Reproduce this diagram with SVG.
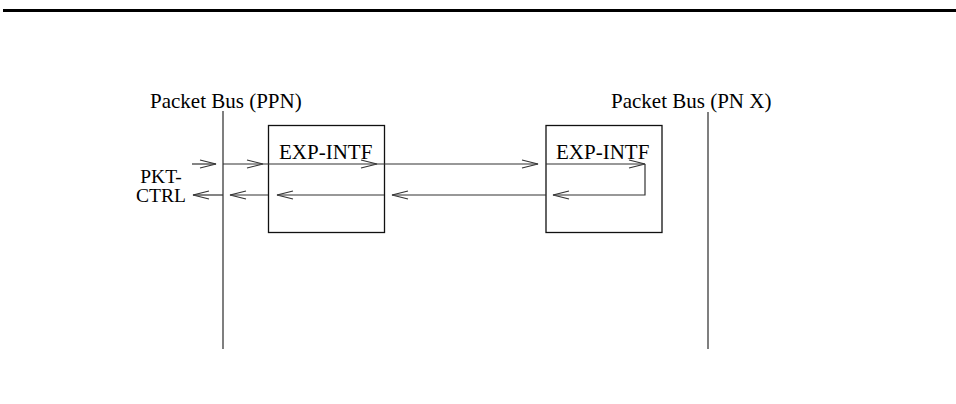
<svg xmlns="http://www.w3.org/2000/svg" width="956" height="404" viewBox="0 0 956 404">
<defs>
<style>
text{font-family:"Liberation Serif","Times New Roman",serif;font-size:21px;fill:#000}
.sm{font-size:19.5px}
.bus{stroke:#555;stroke-width:1.5;fill:none}
.box{stroke:#111;stroke-width:1.3;fill:#fff}
.c{stroke:#333;stroke-width:1.2;fill:none;marker-end:url(#arr)}
</style>
<marker id="arr" viewBox="0 0 18 10" markerWidth="18" markerHeight="10" refX="17" refY="5" orient="auto" markerUnits="userSpaceOnUse">
<path d="M1,1 L17,5 L1,9" fill="none" stroke="#333" stroke-width="1.2"/>
</marker>
</defs>
<rect x="3" y="9" width="953" height="3" fill="#000"/>
<g id="bus-ppn">
<line class="bus" x1="223" y1="111" x2="223" y2="349"/>
<text x="150" y="108">Packet Bus (PPN)</text>
</g>
<g id="bus-pnx">
<line class="bus" x1="708" y1="112" x2="708" y2="349"/>
<text x="611" y="108">Packet Bus (PN X)</text>
</g>
<g id="pkt-ctrl">
<text class="sm" x="161" y="183" text-anchor="middle">PKT-</text>
<text class="sm" x="161" y="202" text-anchor="middle">CTRL</text>
</g>
<g id="exp-intf-1">
<rect class="box" x="268.5" y="125.5" width="116" height="107"/>
<text x="279" y="159">EXP-INTF</text>
</g>
<g id="exp-intf-2">
<rect class="box" x="546" y="125.5" width="116" height="107"/>
<text x="556" y="159">EXP-INTF</text>
</g>
<g id="connectors">
<line class="c" x1="192" y1="164" x2="216" y2="164"/>
<line class="c" x1="223" y1="164" x2="263" y2="164"/>
<line class="c" x1="263" y1="164" x2="377" y2="164"/>
<line class="c" x1="377" y1="164" x2="538" y2="164"/>
<line class="c" x1="546" y1="164" x2="645" y2="164"/>
<polyline class="c" points="645,164 645,195 553,195"/>
<line class="c" x1="546" y1="195" x2="392" y2="195"/>
<line class="c" x1="384" y1="195" x2="277" y2="195"/>
<line class="c" x1="268" y1="195" x2="230" y2="195"/>
<line class="c" x1="223" y1="195" x2="193" y2="195"/>
</g>
</svg>
